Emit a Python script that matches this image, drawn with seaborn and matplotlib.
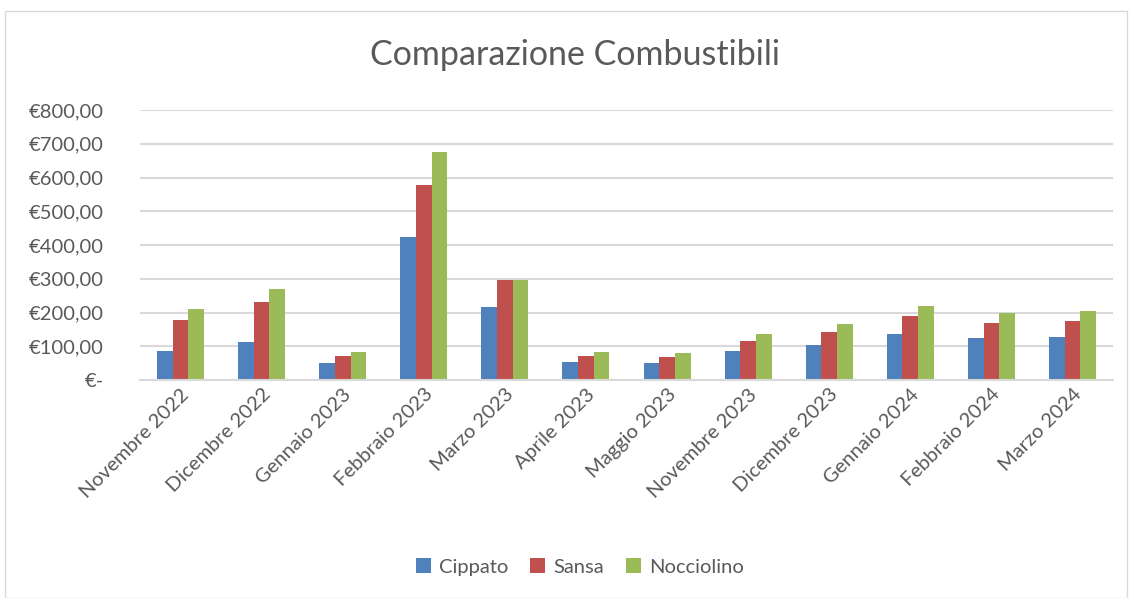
import pandas as pd
import seaborn as sns
from matplotlib import pyplot as plt
from matplotlib.patches import Rectangle
from matplotlib.ticker import FuncFormatter

months = ["Novembre 2022", "Dicembre 2022", "Gennaio 2023", "Febbraio 2023", "Marzo 2023",
          "Aprile 2023", "Maggio 2023", "Novembre 2023", "Dicembre 2023", "Gennaio 2024",
          "Febbraio 2024", "Marzo 2024"]
cippato = [86, 113, 50, 423, 216, 53, 50, 87, 104, 137, 124, 128]
sansa = [178, 232, 70, 578, 296, 72, 69, 117, 142, 189, 169, 175]
nocciolino = [209, 271, 82, 676, 296, 84, 81, 137, 165, 220, 198, 204]
series = ["Cippato", "Sansa", "Nocciolino"]
colors = ["#4F81BD", "#C0504D", "#9BBB59"]


def build_frame():
    rows = []
    for name, vals in zip(series, [cippato, sansa, nocciolino]):
        for m, v in zip(months, vals):
            rows.append({"mese": m, "serie": name, "valore": v})
    return pd.DataFrame(rows)


def euro(v, pos):
    if v == 0:
        return "€-"
    return "€" + f"{v:,.2f}".replace(",", "X").replace(".", ",").replace("X", ".")


def plot_bars(df, file_name):
    sns.set_style("white")
    plt.rcParams['font.family'] = ['Lato', 'DejaVu Sans']
    fig = plt.figure(figsize=(11.32, 5.98), dpi=100)
    ax = fig.add_axes([140 / 1132, 1 - 380 / 598, 973 / 1132, 270 / 598])
    sns.barplot(data=df, x="mese", y="valore", hue="serie", palette=colors,
                width=0.58, ax=ax, saturation=1, edgecolor="none")
    ax.set_ylim(0, 800)
    ax.set_xlim(-0.5, len(months) - 0.5)
    ax.set_yticks(range(0, 801, 100))
    ax.yaxis.set_major_formatter(FuncFormatter(euro))
    ax.grid(axis="y", color="#D9D9D9", linewidth=1.5)
    ax.set_axisbelow(True)
    for s in ["top", "right", "left"]:
        ax.spines[s].set_visible(False)
    ax.spines["bottom"].set_color("#D9D9D9")
    ax.spines["bottom"].set_linewidth(1.5)
    ax.tick_params(axis="y", length=0, labelsize=14.5, labelcolor="#595959", pad=26)
    ax.tick_params(axis="x", length=0, labelsize=14.5, labelcolor="#595959", pad=4)
    plt.setp(ax.get_xticklabels(), rotation=45, ha="right", rotation_mode="anchor")
    ax.set_xlabel("")
    ax.set_ylabel("")
    fig.text(575 / 1132, 1 - 55 / 598, "Comparazione Combustibili", ha="center", va="center",
             fontsize=24.5, color="#595959")
    ax.legend(loc="center", bbox_to_anchor=(580 / 1132 * 1132 / 973 - 140 / 973,
                                            (1 - 567 / 598 - (1 - 380 / 598)) / (270 / 598)),
              ncol=3, frameon=False, fontsize=14.5, handlelength=0.75, handleheight=0.75,
              handletextpad=0.4, columnspacing=1.1, labelcolor="#595959")
    fig.patches.append(Rectangle((5 / 1132, 0), 1122 / 1132, 1 - 11 / 598, transform=fig.transFigure,
                                 fill=False, edgecolor="#D9D9D9", linewidth=1))
    plt.savefig(file_name, dpi=100)


def main():
    df = build_frame()
    plot_bars(df, "out.png")


if __name__ == "__main__":
    main()
